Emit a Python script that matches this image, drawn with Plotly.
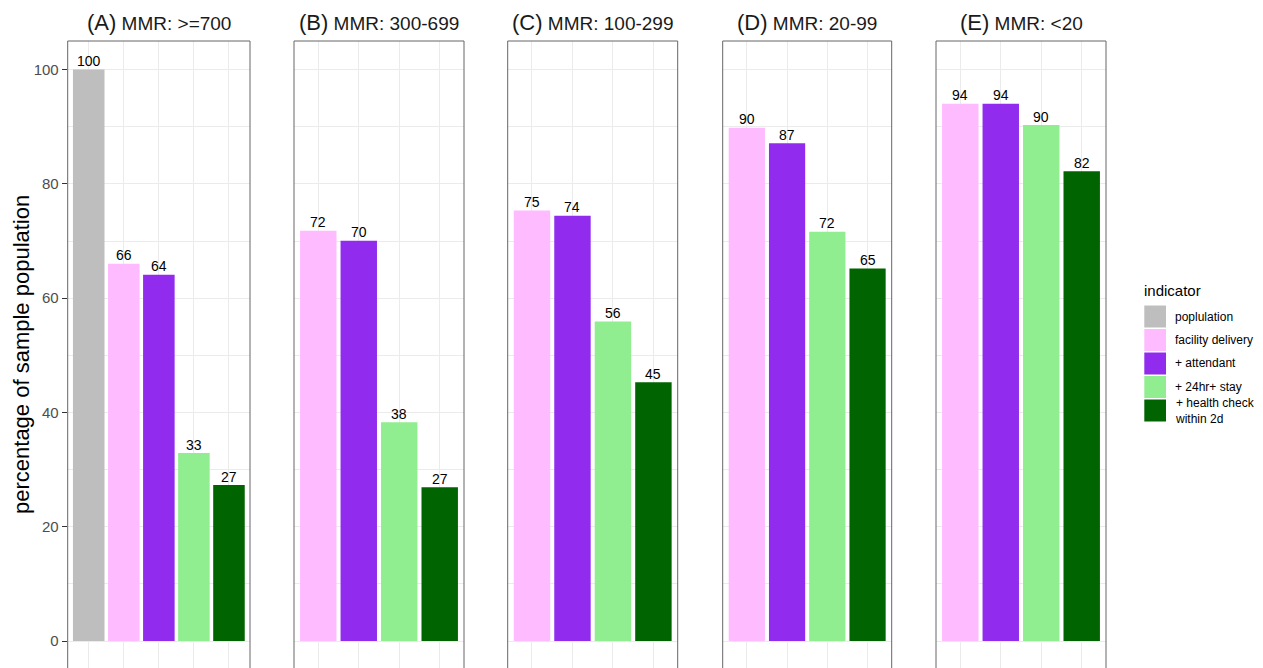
import plotly.graph_objects as go

# page has an 8px body margin, so the figure is drawn at (8, 8)
OFF = 8
FW, FH = 1263 - OFF, 668 - OFF
FONT = "Liberation Sans, Arial, Helvetica, sans-serif"

# ---- data ----
indicators = ["poplulation", "facility delivery", "+ attendant", "+ 24hr+ stay", "+ health check within 2d"]
legend_labels = ["poplulation", "facility delivery", "+ attendant", "+ 24hr+ stay", "+ health check<br>within 2d"]
colors = ["#BEBEBE", "#FFBBFF", "#912CEE", "#90EE90", "#006400"]

panel_letters = ["(A)", "(B)", "(C)", "(D)", "(E)"]
panel_names = ["MMR: &gt;=700", "MMR: 300-699", "MMR: 100-299", "MMR: 20-99", "MMR: &lt;20"]

panel_A = [100.0, 66.0, 64.1, 32.9, 27.3]
panel_B = [71.8, 70.05, 38.3, 26.9]
panel_C = [75.35, 74.4, 55.9, 45.3]
panel_D = [89.8, 87.1, 71.6, 65.2]
panel_E = [94.0, 94.0, 90.3, 82.2]
panel_values = [panel_A, panel_B, panel_C, panel_D, panel_E]

y_ticks = [0, 20, 40, 60, 80, 100]


def px_x(px):
    return (px - OFF) / FW


def px_y(py):
    return (FH - (py - OFF)) / FH


# ---- layout geometry (page pixels) ----
panel_px = [(67.7, 250.0), (294.0, 464.0), (507.7, 677.7), (722.7, 891.7), (936.0, 1106.0)]
top_px = 41.0
y_top_val, y_bot_val = 105.0, -4.72
ydom_top = px_y(top_px)

fig = go.Figure()
layout = dict(
    width=FW, height=FH,
    margin=dict(l=0, r=0, t=0, b=0),
    plot_bgcolor="white", paper_bgcolor="white",
    showlegend=False,
    font=dict(family=FONT, color="#1A1A1A"),
)
shapes = []
annotations = []

for i, vals in enumerate(panel_values):
    n = len(vals)
    cats = indicators[-n:]
    cols = colors[-n:]
    xa = "x" if i == 0 else f"x{i+1}"
    ya = "y" if i == 0 else f"y{i+1}"
    fig.add_trace(go.Bar(
        x=cats, y=vals, xaxis=xa, yaxis=ya,
        width=0.9,
        marker=dict(color=cols, line=dict(width=0)),
        hoverinfo="x+y",
    ))
    # value labels above bars
    for c, v in zip(cats, vals):
        annotations.append(dict(
            xref=xa, yref=ya, x=c, y=v,
            xanchor="center", yanchor="bottom", yshift=-1.5, showarrow=False,
            text=str(int(round(v))),
            font=dict(size=14, color="#000000", family=FONT),
        ))
    x0, x1 = panel_px[i]
    layout["xaxis" if i == 0 else f"xaxis{i+1}"] = dict(
        domain=[px_x(x0), px_x(x1)], anchor=ya,
        type="category", categoryorder="array", categoryarray=cats,
        range=[-0.6, n - 1 + 0.6],
        showgrid=True, gridcolor="#EBEBEB", gridwidth=1.1,
        showticklabels=False, ticks="", zeroline=False, showline=False,
    )
    layout["yaxis" if i == 0 else f"yaxis{i+1}"] = dict(
        domain=[0, ydom_top], anchor=xa,
        range=[y_bot_val, y_top_val],
        tickmode="array", tickvals=y_ticks,
        showgrid=True, gridcolor="#EBEBEB", gridwidth=1.1,
        minor=dict(showgrid=True, gridcolor="#EBEBEB", gridwidth=0.8, tick0=10, dtick=20),
        zeroline=False, showline=False,
        showticklabels=(i == 0),
        ticks="outside" if i == 0 else "",
        ticklen=5, tickwidth=1, tickcolor="#333333",
        tickfont=dict(size=15, color="#4D4D4D", family=FONT),
    )
    # panel border
    shapes.append(dict(type="rect", xref="paper", yref="paper",
                       x0=px_x(x0), x1=px_x(x1), y0=-0.05, y1=ydom_top,
                       line=dict(color="#666666", width=1), fillcolor="rgba(0,0,0,0)", layer="above"))
    # strip title
    annotations.append(dict(
        xref="paper", yref="paper", x=px_x((x0 + x1) / 2), y=px_y(22),
        xanchor="center", yanchor="middle", showarrow=False,
        text=f"<span style='font-size:22px'>{panel_letters[i]}</span> {panel_names[i]}",
        font=dict(size=19, color="#1A1A1A", family=FONT),
    ))

# y-axis title
annotations.append(dict(
    xref="paper", yref="paper", x=px_x(21), y=px_y(355),
    xanchor="center", yanchor="middle", showarrow=False, textangle=-90,
    text="percentage of sample population",
    font=dict(size=22, color="#000000", family=FONT),
))

# legend (ggplot-style guide)
annotations.append(dict(
    xref="paper", yref="paper", x=px_x(1142), y=px_y(290),
    xanchor="left", yanchor="middle", showarrow=False,
    text="indicator", font=dict(size=15, color="#000000", family=FONT),
))
key_top = 305.5
key_pitch = 23.5
for j, (lab, col) in enumerate(zip(legend_labels, colors)):
    ky0 = key_top + j * key_pitch
    ky1 = ky0 + 22
    shapes.append(dict(type="rect", xref="paper", yref="paper",
                       x0=px_x(1144.3), x1=px_x(1166), y0=px_y(ky1), y1=px_y(ky0),
                       line=dict(width=0), fillcolor=col, layer="above"))
    annotations.append(dict(
        xref="paper", yref="paper", x=px_x(1173), y=px_y((ky0 + ky1) / 2),
        xanchor="left", yanchor="middle", showarrow=False, align="left",
        text=lab, font=dict(size=12, color="#000000", family=FONT),
    ))

layout["shapes"] = shapes
layout["annotations"] = annotations
fig.update_layout(**layout)
fig.write_html("out.html")
